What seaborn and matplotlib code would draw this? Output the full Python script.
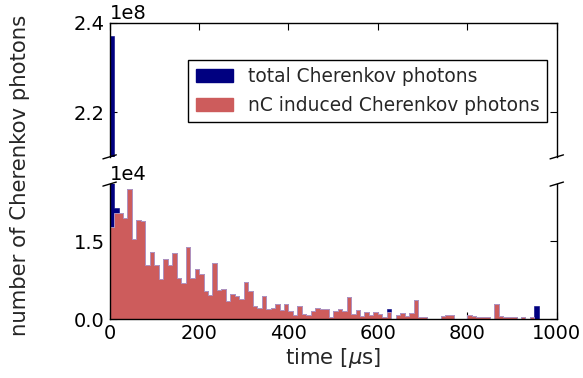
import numpy as np
import pandas as pd
import matplotlib
matplotlib.use("Agg")
import matplotlib.pyplot as plt
from matplotlib.patches import Patch
from matplotlib.ticker import MultipleLocator
import seaborn as sns

# Histogram binning: 10 us bins from 0 to 1000 us
bin_width = 10
time_range = (0, 1000)
bin_centers = np.arange(time_range[0], time_range[1], bin_width) + bin_width / 2

# Cherenkov photons induced by neutron captures, per 10 us bin
nc_photons = [
    17700, 20400, 20400, 19400, 25100, 15400, 19000, 18800, 10400, 12900,
    10500, 7800, 11500, 10500, 12800, 7900, 7000, 13800, 7900, 9700,
    8700, 5400, 4600, 10700, 5600, 5800, 3400, 4900, 4500, 3900,
    7100, 5400, 2500, 2200, 4500, 2000, 2100, 2900, 1800, 2900,
    1500, 800, 2500, 1000, 800, 1600, 2200, 1900, 1900, 400,
    1500, 1900, 1500, 4300, 1000, 1700, 600, 1300, 800, 1300,
    900, 400, 1300, 100, 800, 1100, 600, 1200, 3700, 300,
    300, 0, 0, 100, 500, 700, 700, 0, 0, 0,
    800, 600, 400, 400, 400, 0, 2900, 500, 400, 400,
    400, 0, 300, 0, 400, 0, 0, 0, 0, 0,
]

# All Cherenkov photons per bin (prompt burst in the first bin)
total_photons = list(nc_photons)
total_photons[0] = 237_000_000
total_photons[1] = 21400
total_photons[62] = 1900
total_photons[95] = 2600

series_labels = ["total Cherenkov photons", "nC induced Cherenkov photons"]
series_colors = ["#000080", "#CD5C5C"]
outline_color = "#b8a0cc"

df = pd.DataFrame({"time": bin_centers, "total": total_photons, "nc": nc_photons})

sns.set_style("white")
plt.rcParams.update({
    "font.family": ["DejaVu Sans"],
    "font.size": 14,
    "xtick.direction": "in",
    "ytick.direction": "in",
    "xtick.major.size": 5,
    "ytick.major.size": 5,
    "axes.edgecolor": "black",
    "axes.linewidth": 1.0,
    "xtick.color": "black",
    "ytick.color": "black",
})

fig = plt.figure(figsize=(5.83, 3.78), dpi=100)
ax_top = fig.add_axes([0.188, 0.585, 0.767, 0.355])
ax_bot = fig.add_axes([0.188, 0.156, 0.767, 0.357])

for ax in (ax_top, ax_bot):
    sns.histplot(data=df, x="time", weights="total", binwidth=bin_width,
                 binrange=time_range, element="step", fill=True,
                 color=series_colors[0], alpha=1.0,
                 edgecolor=series_colors[0], linewidth=0.4, ax=ax)
    sns.histplot(data=df, x="time", weights="nc", binwidth=bin_width,
                 binrange=time_range, element="step", fill=True,
                 color=series_colors[1], alpha=1.0,
                 edgecolor=outline_color, linewidth=0.6, ax=ax)
    ax.set_xlim(*time_range)
    ax.set_xlabel("")
    ax.set_ylabel("")
    ax.ticklabel_format(style="sci", scilimits=(0, 0), axis="y", useMathText=False)
    ax.tick_params(axis="y", left=True, right=True, labelsize=14)
    ax.tick_params(axis="x", labelsize=14)

ax_top.set_ylim(2.1e8, 2.4e8)
ax_bot.set_ylim(0, 2.6e4)
ax_top.yaxis.set_major_locator(MultipleLocator(2e7))
ax_bot.yaxis.set_major_locator(MultipleLocator(1.5e4))
ax_top.yaxis.get_offset_text().set_fontsize(14)
ax_bot.yaxis.get_offset_text().set_fontsize(14)

# Broken-axis styling
ax_top.spines["bottom"].set_visible(False)
ax_bot.spines["top"].set_visible(False)
ax_top.xaxis.tick_top()
ax_top.tick_params(labeltop=False)
ax_bot.xaxis.tick_bottom()
ax_bot.xaxis.set_major_locator(MultipleLocator(200))

d = 0.015
kw = dict(transform=ax_top.transAxes, color="k", clip_on=False, lw=1)
ax_top.plot((-d, +d), (-d, +d), **kw)
ax_top.plot((1 - d, 1 + d), (-d, +d), **kw)
kw.update(transform=ax_bot.transAxes)
ax_bot.plot((-d, +d), (1 - d, 1 + d), **kw)
ax_bot.plot((1 - d, 1 + d), (1 - d, 1 + d), **kw)

ax_bot.set_xlabel(r"time [$\mu$s]", fontsize=15.3, labelpad=2)
fig.text(0.035, 0.537, "number of Cherenkov photons", rotation=90,
         ha="center", va="center", fontsize=15.3)

handles = [Patch(facecolor=c, edgecolor=c) for c in series_colors]
leg = ax_top.legend(handles, series_labels, loc="upper right",
                    bbox_to_anchor=(0.978, 0.722), borderaxespad=0,
                    fancybox=False, framealpha=1, fontsize=13.4)
leg.get_frame().set_edgecolor("black")
leg.get_frame().set_linewidth(1.0)

fig.savefig("out.png", dpi=100, facecolor="white")
